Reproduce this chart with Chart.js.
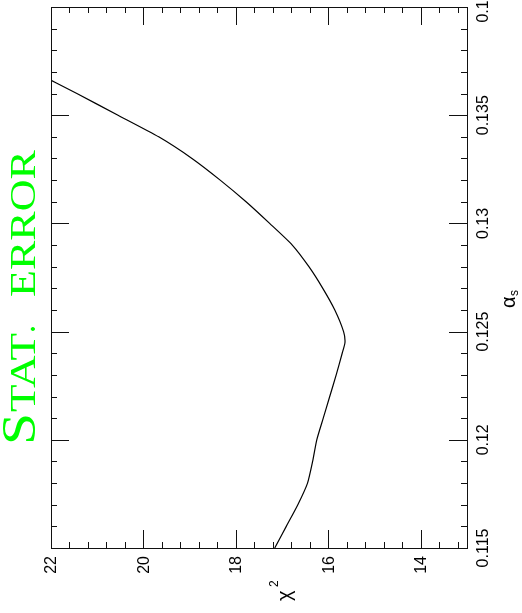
<!DOCTYPE html>
<html><head><meta charset="utf-8">
<script src="https://cdn.jsdelivr.net/npm/chart.js@4/dist/chart.umd.min.js"></script>
<style>html,body{margin:0;padding:0;background:#fff;overflow:hidden}canvas{display:block}</style>
</head><body>
<canvas id="c" width="522" height="613"></canvas>
<script>
// alpha_s values (vertical axis) and chi^2 values (horizontal axis)
const alphaS = [0.115,0.116,0.117,0.118,0.119,0.120,0.121,0.122,0.123,0.124,0.1245,0.125,0.126,0.127,0.128,0.129,0.130,0.131,0.132,0.133,0.134,0.135,0.136,0.137];
const chi2   = [17.16,16.91,16.66,16.45,16.34,16.25,16.11,15.97,15.83,15.70,15.64,15.67,15.86,16.12,16.42,16.78,17.27,17.78,18.34,18.95,19.67,20.55,21.44,22.35];

const chiMajorTicks = [22,20,18,16,14];
const chiLabels = ['22','20','18','16','14'];
const chiMinorTicks = [21.6,21.2,20.8,20.4,19.6,19.2,18.8,18.4,17.6,17.2,16.8,16.4,15.6,15.2,14.8,14.4,13.6,13.2];
const alphaMajorTicks = [0.115,0.12,0.125,0.13,0.135,0.14];
const alphaLabels = ['0.115','0.12','0.125','0.13','0.135','0.14'];
const alphaMinorTicks = [0.116,0.117,0.118,0.119,0.121,0.122,0.123,0.124,0.126,0.127,0.128,0.129,0.131,0.132,0.133,0.134,0.136,0.137,0.138,0.139];

const axesPlugin = {
  id: 'axesPlugin',
  afterDraw(chart) {
    const ctx = chart.ctx, xs = chart.scales.x, ys = chart.scales.y, a = chart.chartArea;
    ctx.save();
    ctx.strokeStyle = '#111';
    ctx.lineWidth = 1;
    ctx.strokeRect(Math.round(a.left)+0.5, Math.round(a.top)+0.5, Math.round(a.right-a.left), Math.round(a.bottom-a.top));
    const MAJ = 18, MIN = 6;
    function vt(v, len) {
      const x = Math.round(xs.getPixelForValue(v)) + 0.5;
      ctx.beginPath();
      ctx.moveTo(x, a.bottom); ctx.lineTo(x, a.bottom - len);
      ctx.moveTo(x, a.top); ctx.lineTo(x, a.top + len);
      ctx.stroke();
    }
    function ht(v, len) {
      const y = Math.round(ys.getPixelForValue(v)) + 0.5;
      ctx.beginPath();
      ctx.moveTo(a.left, y); ctx.lineTo(a.left + len, y);
      ctx.moveTo(a.right, y); ctx.lineTo(a.right - len, y);
      ctx.stroke();
    }
    chiMajorTicks.forEach(v => vt(v, MAJ));
    chiMinorTicks.forEach(v => vt(v, MIN));
    alphaMajorTicks.forEach(v => ht(v, MAJ));
    alphaMinorTicks.forEach(v => ht(v, MIN));

    ctx.fillStyle = '#000';
    ctx.font = '16px "Liberation Sans", Arial, sans-serif';
    chiMajorTicks.forEach((v, i) => {
      const x = xs.getPixelForValue(v);
      ctx.save();
      ctx.translate(x + 1, a.bottom + 8);
      ctx.rotate(-Math.PI / 2);
      ctx.textAlign = 'right'; ctx.textBaseline = 'middle';
      ctx.fillText(chiLabels[i], 0, 0);
      ctx.restore();
    });
    alphaMajorTicks.forEach((v, i) => {
      const y = ys.getPixelForValue(v);
      ctx.save();
      ctx.translate(a.right + 17, y);
      ctx.rotate(-Math.PI / 2);
      ctx.textAlign = 'center'; ctx.textBaseline = 'middle';
      ctx.fillText(alphaLabels[i], 0, 0);
      ctx.restore();
    });

    // chi^2 axis title
    ctx.save();
    ctx.translate(291, 601);
    ctx.rotate(-Math.PI / 2);
    ctx.textAlign = 'left'; ctx.textBaseline = 'alphabetic';
    ctx.font = '20px "Liberation Sans", Arial, sans-serif';
    ctx.fillText('\u03c7', 0, 0);
    ctx.font = '12px "Liberation Sans", Arial, sans-serif';
    ctx.fillText('2', 14, -13);
    ctx.restore();

    // alpha_s axis title
    ctx.save();
    ctx.translate(515, 308);
    ctx.rotate(-Math.PI / 2);
    ctx.textAlign = 'left'; ctx.textBaseline = 'alphabetic';
    ctx.font = '20px "Liberation Sans", Arial, sans-serif';
    ctx.fillText('\u03b1', 0, 0);
    ctx.font = '12px "Liberation Sans", Arial, sans-serif';
    ctx.fillText('s', 12, 3);
    ctx.restore();

    // green title
    ctx.save();
    ctx.translate(35, 445);
    ctx.rotate(-Math.PI / 2);
    ctx.fillStyle = '#00ff00';
    ctx.textAlign = 'left'; ctx.textBaseline = 'alphabetic';
    function fit(txt, font, tx, w) {
      ctx.font = font;
      const m = ctx.measureText(txt).width;
      ctx.save(); ctx.translate(tx, 0); ctx.scale(w / m, 1); ctx.fillText(txt, 0, 0); ctx.restore();
    }
    fit('S', '48px "Liberation Serif", "Times New Roman", serif', 0, 32);
    fit('TAT', '35px "Liberation Serif", "Times New Roman", serif', 33, 79);
    fit('.', '35px "Liberation Serif", "Times New Roman", serif', 112, 8);
    fit('ERROR', '35px "Liberation Serif", "Times New Roman", serif', 148, 147);
    ctx.restore();
    ctx.restore();
  }
};

new Chart(document.getElementById('c'), {
  type: 'scatter',
  data: {
    datasets: [{
      data: alphaS.map((a, i) => ({ x: chi2[i], y: a })),
      showLine: true,
      borderColor: '#000',
      borderWidth: 1.2,
      pointRadius: 0,
      tension: 0.2,
      fill: false
    }]
  },
  options: {
    responsive: false,
    animation: false,
    devicePixelRatio: 1,
    layout: { padding: { left: 51, right: 55, top: 7, bottom: 65 } },
    plugins: { legend: { display: false }, tooltip: { enabled: false } },
    scales: {
      x: { type: 'linear', min: 13, max: 22, reverse: true, display: false },
      y: { type: 'linear', min: 0.115, max: 0.14, display: false }
    }
  },
  plugins: [axesPlugin]
});
</script>
</body></html>
